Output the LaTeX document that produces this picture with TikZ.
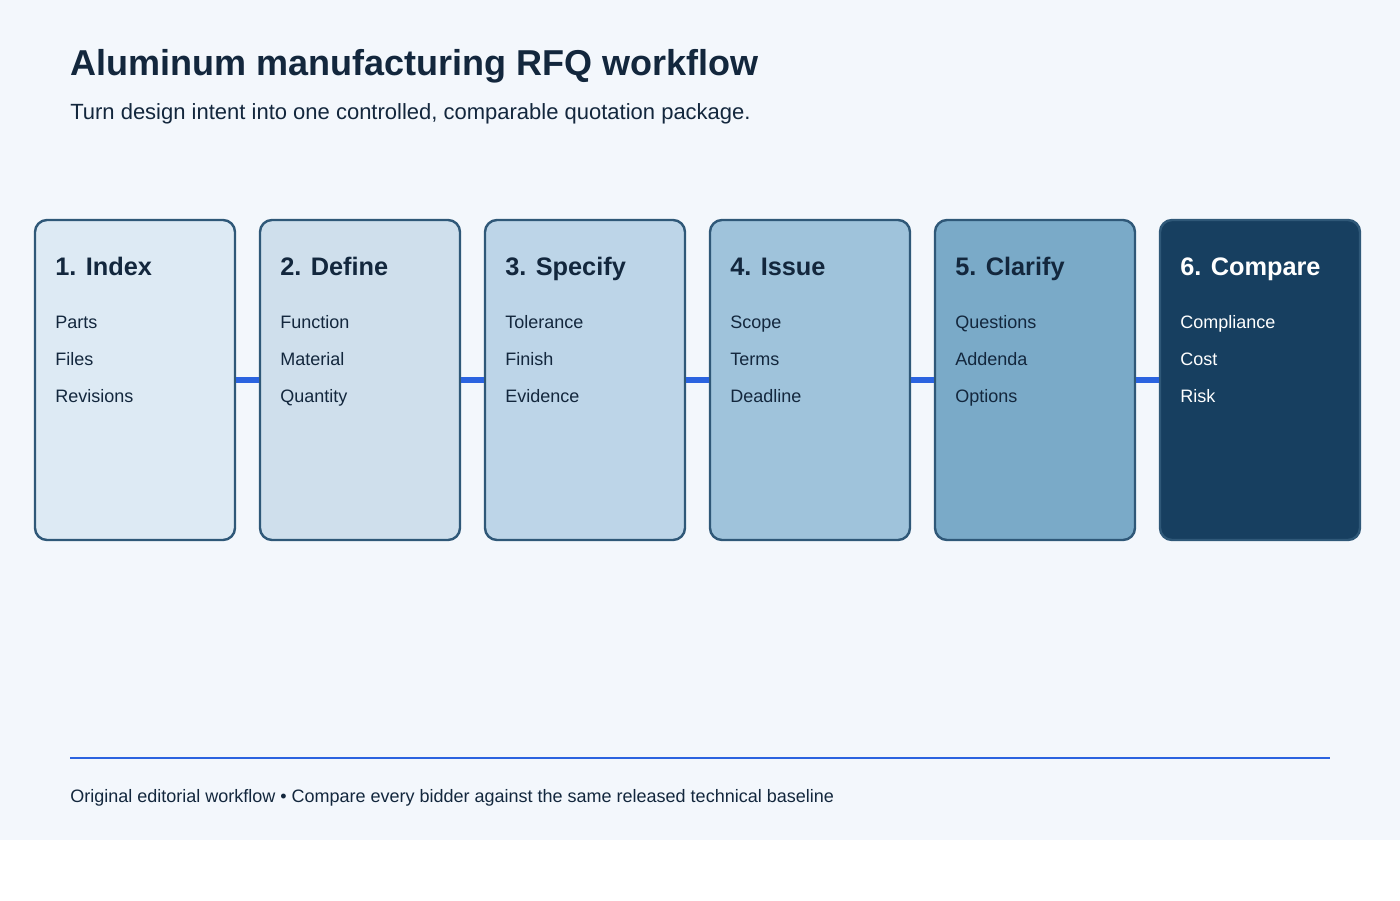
\documentclass[tikz,border=0pt]{standalone}
\usepackage{fontspec}
\setmainfont{Liberation Sans}
\usetikzlibrary{positioning}
\definecolor{bgcol}{HTML}{F3F7FC}
\definecolor{edgecol}{HTML}{2F5878}
\definecolor{linkcol}{HTML}{2B63E0}
\definecolor{inkcol}{HTML}{13273D}
\definecolor{fillA}{HTML}{DDEAF4}
\definecolor{fillB}{HTML}{CFDFEC}
\definecolor{fillC}{HTML}{BDD5E8}
\definecolor{fillD}{HTML}{9FC3DB}
\definecolor{fillE}{HTML}{7AAAC8}
\definecolor{fillF}{HTML}{173F60}
\tikzset{
  stagebox/.style={draw=edgecol, line width=1.8pt, rounded corners=9pt,
    minimum width=150pt, minimum height=240pt, inner sep=0pt},
  stagetitle/.style={anchor=base west, inner sep=0pt, font=\fontsize{19}{22}\selectfont\bfseries},
  stageitem/.style={anchor=base west, inner sep=0pt, font=\fontsize{13.5}{16}\selectfont},
  link/.style={draw=linkcol, line width=4.5pt}
}
\begin{document}
\begin{tikzpicture}[x=0.75pt, y=-0.75pt]
  \useasboundingbox (0,0) rectangle (1400,900);
  \fill[bgcol] (0,0) rectangle (1400,840);

  \node[anchor=base west, inner sep=0pt, text=inkcol, font=\fontsize{27}{32}\selectfont\bfseries]
    (title) at (70,75) {Aluminum manufacturing RFQ workflow};
  \node[anchor=base west, inner sep=0pt, text=inkcol, font=\fontsize{16.5}{20}\selectfont]
    (subtitle) at (70,119) {Turn design intent into one controlled, comparable quotation package.};

  % links
  \foreach \i/\j in {1/2,2/3,3/4,4/5,5/6}
    \coordinate (l\i) at ({235+225*(\i-1)},380);

  % stages
  \foreach \i/\fc/\tc/\name/\a/\b/\c in {
      1/fillA/inkcol/1. Index/Parts/Files/Revisions,
      2/fillB/inkcol/2. Define/Function/Material/Quantity,
      3/fillC/inkcol/3. Specify/Tolerance/Finish/Evidence,
      4/fillD/inkcol/4. Issue/Scope/Terms/Deadline,
      5/fillE/inkcol/5. Clarify/Questions/Addenda/Options,
      6/fillF/white/6. Compare/Compliance/Cost/Risk} {
    \node[stagebox, fill=\fc] (s\i) at ({135+225*(\i-1)},380) {};
    \node[stagetitle, text=\tc] (t\i) at ({55+225*(\i-1)},275) {\name};
    \node[stageitem, text=\tc] (a\i) at ({55+225*(\i-1)},328) {\a};
    \node[stageitem, text=\tc] (b\i) at ({55+225*(\i-1)},365) {\b};
    \node[stageitem, text=\tc] (c\i) at ({55+225*(\i-1)},402) {\c};
  }

  \foreach \i/\j in {1/2,2/3,3/4,4/5,5/6}
    \draw[link] (s\i.east) -- (s\j.west);

  % footer
  \coordinate (fl) at (70,758);
  \coordinate (fr) at (1330,758);
  \draw[linkcol, line width=2.2pt] (fl) -- (fr);
  \node[anchor=base west, inner sep=0pt, text=inkcol, font=\fontsize{13.5}{16}\selectfont]
    (footer) at (70,802) {Original editorial workflow • Compare every bidder against the same released technical baseline};
\end{tikzpicture}
\end{document}
